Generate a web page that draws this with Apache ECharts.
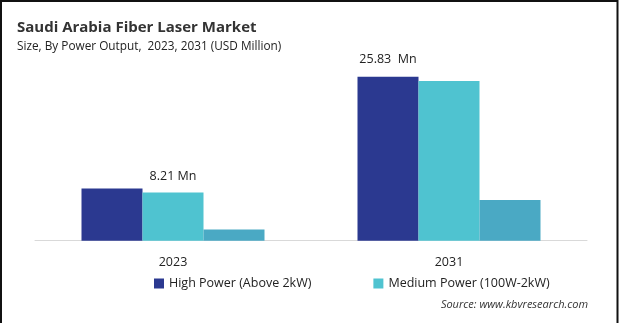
<!DOCTYPE html>
<html>
<head>
<meta charset="utf-8">
<script src="https://cdn.jsdelivr.net/npm/echarts@6/dist/echarts.min.js"></script>
<style>
  html, body { margin: 0; padding: 0; background: #fff; }
  #chart { width: 619px; height: 323px; }
</style>
</head>
<body>
<div id="chart"></div>
<script>
// Market size by power output (USD Million)
const years = ['2023', '2031'];
const highPower = [8.21, 25.83];
const mediumPower = [7.6, 25.15];
const lowPower = [1.75, 6.4];
const seriesNames = ['High Power (Above 2kW)', 'Medium Power (100W-2kW)', 'Low Power (Below 100W)'];

const FONT = '"Open Sans", "Noto Sans", sans-serif';

const chart = echarts.init(document.getElementById('chart'), null, { renderer: 'canvas' });

chart.setOption({
  animation: false,
  backgroundColor: '#ffffff',
  textStyle: { fontFamily: FONT },
  title: {
    text: 'Saudi Arabia Fiber Laser Market',
    subtext: 'Size, By Power Output,  2023, 2031 (USD Million)',
    left: 12,
    top: 15,
    itemGap: 6,
    textStyle: { fontFamily: FONT, fontSize: 15, fontWeight: 'bold', color: '#333333' },
    subtextStyle: { fontFamily: FONT, fontSize: 11.8, color: '#222222' }
  },
  legend: {
    data: seriesNames.slice(0, 2),
    left: 149,
    top: 272,
    icon: 'rect',
    itemWidth: 10,
    itemHeight: 10,
    itemGap: 62,
    textStyle: { fontFamily: FONT, fontSize: 12.5, color: '#222222' }
  },
  grid: { left: 35, right: 32, top: 50.2, bottom: 82.3, containLabel: false },
  xAxis: {
    type: 'category',
    data: years,
    axisLine: { lineStyle: { color: '#d9d9d9', width: 1 } },
    axisTick: { show: false },
    axisLabel: { fontFamily: FONT, fontSize: 12.5, color: '#222222', margin: 15 }
  },
  yAxis: {
    type: 'value',
    min: 0,
    max: 30,
    show: false,
    splitLine: { show: false }
  },
  series: [
    {
      name: seriesNames[0],
      type: 'bar',
      barWidth: 61,
      barGap: '0%',
      itemStyle: { color: '#2b3990' },
      data: highPower.map((v, i) => ({
        value: v,
        label: {
          show: true,
          position: 'top',
          distance: i === 0 ? 6 : 11,
          offset: i === 0 ? [61, 0] : [0, 0],
          formatter: (p) => p.value.toFixed(2) + (i === 0 ? ' Mn' : '  Mn'),
          fontFamily: FONT,
          fontSize: 12.5,
          color: '#222222'
        }
      }))
    },
    {
      name: seriesNames[1],
      type: 'bar',
      barWidth: 61,
      itemStyle: { color: '#4fc3d0' },
      data: mediumPower
    },
    {
      name: seriesNames[2],
      type: 'bar',
      barWidth: 61,
      itemStyle: { color: '#4aa9c4' },
      data: lowPower
    }
  ],
  graphic: [
    {
      type: 'text',
      right: 31,
      top: 299,
      style: {
        text: 'Source: www.kbvresearch.com',
        font: 'italic 11px ' + FONT,
        fill: '#333333'
      }
    },
    {
      type: 'polyline',
      silent: true,
      shape: { points: [[1, 323], [1, 1], [617.5, 1], [617.5, 323]] },
      style: { stroke: '#111111', lineWidth: 2, fill: null }
    }
  ]
});
</script>
</body>
</html>
